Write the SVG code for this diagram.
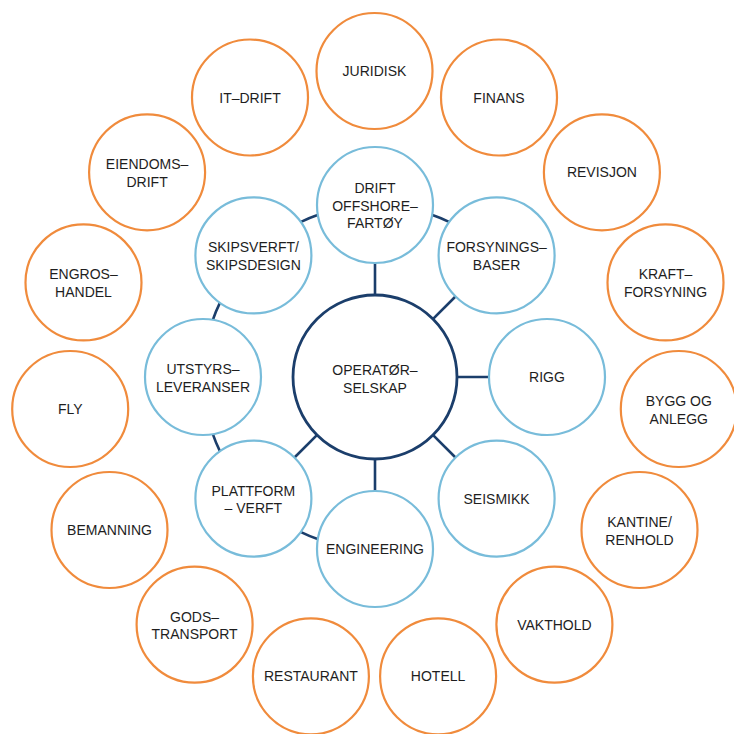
<svg xmlns="http://www.w3.org/2000/svg" width="734" height="734" viewBox="0 0 734 734">
<style>
.o{fill:#fff;stroke:#F08B3C;stroke-width:2.2}
.b{fill:#fff;stroke:#78BCDA;stroke-width:2.2}
.c{fill:#fff;stroke:#1B3E6B;stroke-width:2.8}
.l{fill:none;stroke:#1B3E6B;stroke-width:2.6}
text{font-family:"Liberation Sans",Arial,sans-serif;font-size:14px;fill:#1E1E1E;text-anchor:middle}
</style>
<rect width="734" height="734" fill="#fff"/>
<g id="connectors">
<line class="l" x1="375" y1="297" x2="375" y2="261"/>
<line class="l" x1="431.6" y1="320.4" x2="457" y2="295"/>
<line class="l" x1="455" y1="377" x2="491" y2="377"/>
<line class="l" x1="431.6" y1="433.6" x2="457" y2="459"/>
<line class="l" x1="375" y1="457" x2="375" y2="493"/>
<line class="l" x1="318.4" y1="433.6" x2="293" y2="459"/>
<path class="l" d="M298.8,222.9 A172,172 0 0 1 319.6,214.3"/>
<path class="l" d="M430.4,214.3 A172,172 0 0 1 451.2,222.9"/>
<path class="l" d="M212.2,321.7 A172,172 0 0 1 220.8,300.9"/>
<path class="l" d="M220.8,453.1 A172,172 0 0 1 212.2,432.3"/>
<path class="l" d="M319.6,539.7 A172,172 0 0 1 298.8,531.1"/>
</g>
<g id="operatorselskap"><circle class="c" cx="375" cy="377" r="82"/><text x="375" y="375">OPERATØR–</text><text x="375" y="392.5">SELSKAP</text></g>
<g id="drift-offshore"><circle class="b" cx="375" cy="205" r="58"/><text x="375" y="193">DRIFT</text><text x="375" y="210.5">OFFSHORE–</text><text x="375" y="228">FARTØY</text></g>
<g id="forsyningsbaser"><circle class="b" cx="496.6" cy="255.4" r="58"/><text x="496.6" y="252.4">FORSYNINGS–</text><text x="496.6" y="269.9">BASER</text></g>
<g id="rigg"><circle class="b" cx="547" cy="377" r="58"/><text x="547" y="382">RIGG</text></g>
<g id="seismikk"><circle class="b" cx="496.6" cy="498.6" r="58"/><text x="496.6" y="503.6">SEISMIKK</text></g>
<g id="engineering"><circle class="b" cx="375" cy="549" r="58"/><text x="375" y="554">ENGINEERING</text></g>
<g id="plattform-verft"><circle class="b" cx="253.4" cy="498.6" r="58"/><text x="253.4" y="495.6">PLATTFORM</text><text x="253.4" y="513.1">– VERFT</text></g>
<g id="utstyrsleveranser"><circle class="b" cx="203" cy="377" r="58"/><text x="203" y="374">UTSTYRS–</text><text x="203" y="391.5">LEVERANSER</text></g>
<g id="skipsverft"><circle class="b" cx="253.4" cy="255.4" r="58"/><text x="253.4" y="252.4">SKIPSVERFT/</text><text x="253.4" y="269.9">SKIPSDESIGN</text></g>
<g id="juridisk"><circle class="o" cx="374.5" cy="71" r="58"/><text x="374.5" y="76">JURIDISK</text></g>
<g id="finans"><circle class="o" cx="499" cy="97.5" r="58"/><text x="499" y="102.5">FINANS</text></g>
<g id="revisjon"><circle class="o" cx="601.9" cy="172.3" r="58"/><text x="601.9" y="177.3">REVISJON</text></g>
<g id="kraftforsyning"><circle class="o" cx="665.5" cy="282.4" r="58"/><text x="665.5" y="279.4">KRAFT–</text><text x="665.5" y="296.9">FORSYNING</text></g>
<g id="bygg-og-anlegg"><circle class="o" cx="678.8" cy="409" r="58"/><text x="678.8" y="406">BYGG OG</text><text x="678.8" y="423.5">ANLEGG</text></g>
<g id="kantine-renhold"><circle class="o" cx="639.5" cy="530" r="58"/><text x="639.5" y="527">KANTINE/</text><text x="639.5" y="544.5">RENHOLD</text></g>
<g id="vakthold"><circle class="o" cx="554.4" cy="624.6" r="58"/><text x="554.4" y="629.6">VAKTHOLD</text></g>
<g id="hotell"><circle class="o" cx="438.1" cy="676.3" r="58"/><text x="438.1" y="681.3">HOTELL</text></g>
<g id="restaurant"><circle class="o" cx="310.9" cy="676.3" r="58"/><text x="310.9" y="681.3">RESTAURANT</text></g>
<g id="godstransport"><circle class="o" cx="194.6" cy="624.6" r="58"/><text x="194.6" y="621.6">GODS–</text><text x="194.6" y="639.1">TRANSPORT</text></g>
<g id="bemanning"><circle class="o" cx="109.5" cy="530" r="58"/><text x="109.5" y="535">BEMANNING</text></g>
<g id="fly"><circle class="o" cx="70.2" cy="409" r="58"/><text x="70.2" y="414">FLY</text></g>
<g id="engroshandel"><circle class="o" cx="83.5" cy="282.4" r="58"/><text x="83.5" y="279.4">ENGROS–</text><text x="83.5" y="296.9">HANDEL</text></g>
<g id="eiendomsdrift"><circle class="o" cx="147.1" cy="172.3" r="58"/><text x="147.1" y="169.3">EIENDOMS–</text><text x="147.1" y="186.8">DRIFT</text></g>
<g id="it-drift"><circle class="o" cx="250" cy="97.5" r="58"/><text x="250" y="102.5">IT–DRIFT</text></g>
</svg>
